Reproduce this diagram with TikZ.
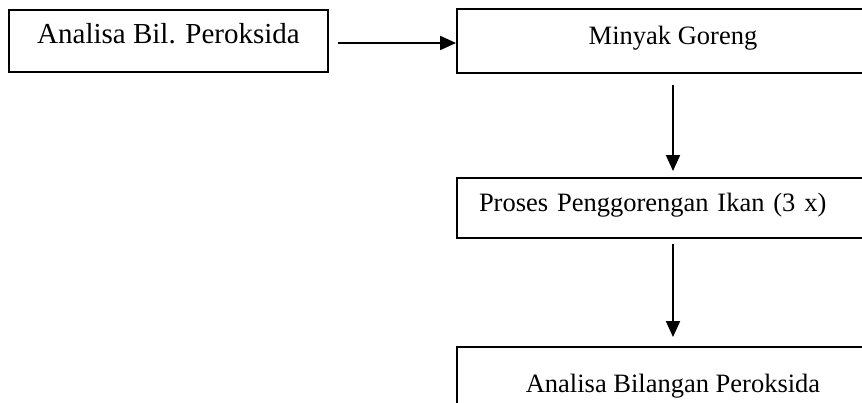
\documentclass[tikz,border=0pt]{standalone}
\usepackage{fontspec}
\setmainfont{Liberation Serif}
\usepackage{tikz}
\usetikzlibrary{arrows.meta}

\begin{document}
\begin{tikzpicture}[
    x=1pt, y=-1pt,
    >={Triangle[length=16pt,width=14pt]},
    line width=1.9pt,
    box/.style={draw, inner sep=0pt, minimum width=432pt,
        text height=18pt, text depth=10pt,
        font=\fontsize{26.5}{31}\selectfont},
]
\useasboundingbox (0,0) rectangle (862,403);
% Nodes
\node[box, minimum width=319pt, minimum height=62pt, text height=21pt, text depth=15pt,
    font=\fontsize{29}{34}\selectfont] (peroks) at (168.5,41) {Analisa Bil. Peroksida};
\node[box, minimum height=64pt] (minyak) at (673,41) {Minyak Goreng};
\node[box, minimum height=60pt, inner xsep=22pt, text width=388pt, align=left] (proses) at (673,208) {Proses Penggorengan Ikan (3 x)};
\node[box, minimum height=82pt] (analisa) at (673,388) {Analisa Bilangan Peroksida};
% Arrows
\draw[->, shorten <=9pt] ([yshift=-2pt]peroks.east) -- ([yshift=-2pt]minyak.west);
\draw[->, shorten <=11pt, shorten >=6pt] (minyak.south) -- (proses.north);
\draw[->, shorten <=5pt, shorten >=9pt] (proses.south) -- (analisa.north);
\end{tikzpicture}
\end{document}
